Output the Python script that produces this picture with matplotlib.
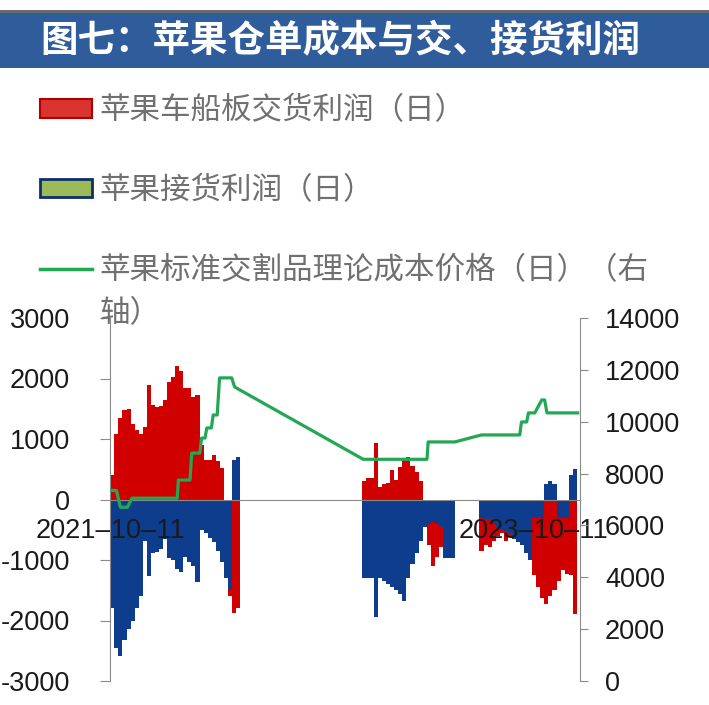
import matplotlib
matplotlib.use("Agg")
import matplotlib.dates as mdates
import matplotlib.pyplot as plt
import pandas as pd
from matplotlib.font_manager import FontProperties
from matplotlib.lines import Line2D
from matplotlib.patches import Patch, Rectangle

plt.rcParams["font.family"] = ["Liberation Sans", "Noto Sans CJK SC"]
plt.rcParams["axes.unicode_minus"] = False

TITLE = "图七：苹果仓单成本与交、接货利润"
LABEL_RED = "苹果车船板交货利润（日）"
LABEL_BLUE = "苹果接货利润（日）"
LABEL_GREEN = "苹果标准交割品理论成本价格（日）（右"
LABEL_GREEN_WRAP = "轴）"

# weekly bars, three blocks of data (start date of each block)
block_starts = ["2021-10-15", "2022-12-23", "2023-07-14"]

red_1 = [400, 1090, 1340, 1480, 1500, 1250, 1150, 1090, 1200, 1890, 1560, 1530,
         1540, 1650, 1950, 2030, 2200, 2120, 1840, 1850, 1700, 1720, 900, 650,
         650, 730, 640, 520, 0, -1600, -1870, -1800]
blue_1 = [-1800, -2450, -2580, -2330, -2140, -2000, -1800, -1590, -680, -1260,
          -880, -860, -820, -650, -960, -1000, -1150, -1200, -950, -1040, -1100,
          -1370, -500, -550, -630, -700, -850, -1040, -1300, -1500, 650, 700]

red_2 = [300, 350, 350, 930, 200, 260, 280, 480, 330, 540, 650, 700, 560, 450,
         300, -400, -760, -1100, -950, -780, -500, -500, -450]
blue_2 = [-1290, -1290, -1290, -1950, -1290, -1340, -1400, -1450, -1500, -1560,
          -1670, -1300, -1060, -890, -680, -450, -400, -380, -400, -450, -960,
          -960, -960]

red_3 = [-850, -750, -780, -680, -600, -560, -680, -620, -500, -500, -500, -600,
         -900, -1250, -1450, -1620, -1720, -1600, -1500, -1340, -1170, -1230,
         -1250, -1890]
blue_3 = [-300, -320, -330, -400, -460, -500, -520, -560, -650, -700, -760, -880,
          -1000, -310, -300, -310, 250, 310, 250, -300, -300, -310, 400, 510]

green_dates = ["2021-10-11", "2021-10-22", "2021-10-29", "2021-11-10", "2021-11-18",
               "2022-02-04", "2022-02-06", "2022-02-26", "2022-03-01", "2022-03-15",
               "2022-03-18", "2022-03-24", "2022-03-27", "2022-04-04", "2022-04-07",
               "2022-04-14", "2022-04-18", "2022-05-09", "2022-05-14", "2022-12-22",
               "2023-04-11", "2023-04-13", "2023-05-29", "2023-07-14", "2023-09-18",
               "2023-09-21", "2023-09-30", "2023-10-03", "2023-10-14", "2023-10-26",
               "2023-10-31", "2023-11-04", "2023-12-27"]
green_values = [7350, 7350, 6700, 6700, 7050,
                7050, 7750, 7750, 8790, 8790,
                9370, 9370, 9760, 9760, 10260,
                10260, 11690, 11690, 11340, 8550,
                8550, 9220, 9220, 9490, 9490,
                9990, 9990, 10340, 10340, 10840,
                10840, 10340, 10340]

x_ticks = ["2021-10-11", "2023-10-11"]
x_tick_labels = ["2021–10–11", "2023–10–11"]

RED = "#d00000"
BLUE = "#0d3d8c"
GREEN = "#22a852"
GRID_GREY = "#8a8a8a"


def main() -> None:
    red = red_1 + red_2 + red_3
    blue = blue_1 + blue_2 + blue_3
    dates = []
    for start, n in zip(block_starts, [len(red_1), len(red_2), len(red_3)]):
        dates += list(pd.date_range(start, periods=n, freq="7D"))
    x = mdates.date2num(dates)

    fig = plt.figure(figsize=(7.09, 7.05), dpi=100)

    # title band
    fig.patches.append(Rectangle((0, 1 - 68 / 705), 1, 55 / 705, transform=fig.transFigure,
                                 facecolor="#2f5c9b", edgecolor="none"))
    fig.patches.append(Rectangle((0, 1 - 13 / 705), 1, 3 / 705, transform=fig.transFigure,
                                 facecolor="#6a6a6a", edgecolor="none"))
    fig.text(40 / 709, 1 - 41 / 705, TITLE, color="white", fontsize=27, fontweight="bold",
             family="Noto Sans CJK SC", va="center", ha="left")

    ax1 = fig.add_axes([110 / 709, 1 - 681 / 705, 470 / 709, 363 / 705])
    ax1.bar(x, red, width=7, color=RED, linewidth=0)
    ax1.bar(x, blue, width=7, color=BLUE, linewidth=0)
    ax1.set_ylim(-3000, 3000)
    ax1.set_yticks(range(-3000, 3001, 1000))
    ax1.set_xlim(mdates.datestr2num("2021-10-11"), mdates.datestr2num("2023-12-31"))
    ax1.set_xticks(mdates.datestr2num(x_ticks))
    ax1.set_xticklabels(x_tick_labels)

    for side in ["top", "right"]:
        ax1.spines[side].set_visible(False)
    ax1.spines["bottom"].set_position(("data", 0))
    ax1.spines["bottom"].set_color(GRID_GREY)
    ax1.spines["left"].set_color(GRID_GREY)
    ax1.tick_params(axis="x", length=0, pad=13, labelsize=19.5, labelcolor="#1a1a1a")
    ax1.tick_params(axis="y", direction="out", length=7, color=GRID_GREY, pad=22,
                    labelsize=19.5, labelcolor="#1a1a1a")

    ax2 = ax1.twinx()
    ax2.plot(mdates.datestr2num(green_dates), green_values, color=GREEN, linewidth=2.3)
    ax2.set_ylim(0, 14000)
    ax2.set_yticks(range(0, 14001, 2000))
    for side in ["top", "left", "bottom"]:
        ax2.spines[side].set_visible(False)
    ax2.spines["right"].set_color(GRID_GREY)
    ax2.tick_params(axis="y", direction="out", length=6, color=GRID_GREY, pad=12,
                    labelsize=19.5, labelcolor="#1a1a1a")

    handles = [
        Patch(facecolor="#d9342f", edgecolor="#b00000", linewidth=1.5),
        Patch(facecolor="#9bbb59", edgecolor="#0d2f6b", linewidth=2),
        Line2D([], [], color=GREEN, linewidth=2.5),
    ]
    legend_font = FontProperties(family="Noto Sans CJK SC", size=22)
    fig.legend(handles, [LABEL_RED, LABEL_BLUE, LABEL_GREEN], loc="upper left",
               bbox_to_anchor=(40 / 709, 1 - 95 / 705), frameon=False, prop=legend_font,
               labelcolor="#707070", handlelength=1.7, handleheight=0.56,
               handletextpad=0.26, labelspacing=1.6, borderpad=0, borderaxespad=0)
    fig.text(100 / 709, 1 - 314 / 705, LABEL_GREEN_WRAP, fontproperties=legend_font,
             color="#707070", va="center", ha="left")

    fig.savefig("out.png", dpi=100)


if __name__ == "__main__":
    main()
